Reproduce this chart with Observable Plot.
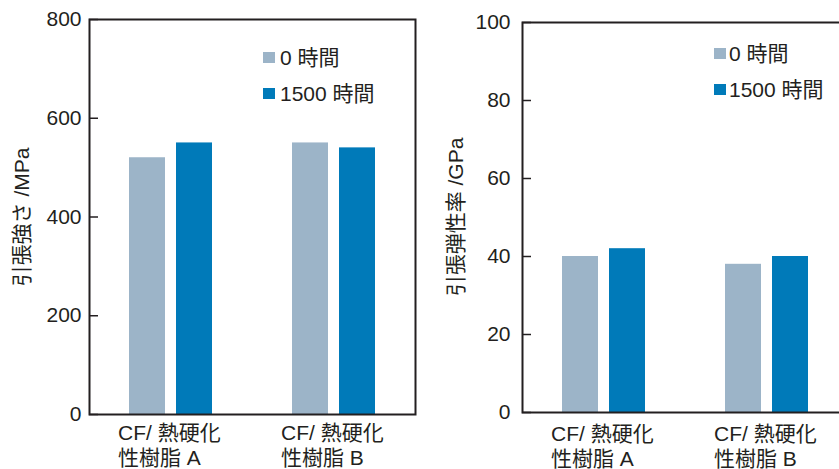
<!DOCTYPE html>
<html>
<head>
<meta charset="utf-8">
<script src="https://cdn.jsdelivr.net/npm/d3@7"></script>
<script src="https://cdn.jsdelivr.net/npm/@observablehq/plot@0.6"></script>
<style>
  html, body { margin: 0; padding: 0; background: #fff; overflow: hidden; }
  #wrap { position: relative; width: 839px; height: 469px; overflow: hidden;
          font-family: "Liberation Sans", Arial, "Noto Sans CJK JP", sans-serif; color: #231f20; }
  .panel { position: absolute; top: 0; }
  .panel svg { max-width: none !important; display: block; }
  .ytitle { position: absolute; font-size: 21px; white-space: nowrap; line-height: 1;
            transform: translate(-50%, -50%) rotate(-90deg); }
  .legend { position: absolute; font-size: 21px; line-height: 1; }
  .legend .row { position: absolute; white-space: nowrap; display: flex; align-items: center; }
  .legend .sw { display: inline-block; width: 12px; height: 11px; }
</style>
</head>
<body>
<div id="wrap"></div>
<script>
// Materials (two-line labels under each group)
const categories = ["CF/ 熱硬化\n性樹脂 A", "CF/ 熱硬化\n性樹脂 B"];
const seriesNames = ["0 時間", "1500 時間"];
const seriesColors = ["#9cb4c8", "#007ab9"];

// Tensile strength (MPa)
const strength0h = [520, 550];
const strength1500h = [550, 540];
const strengthTicks = [0, 200, 400, 600, 800];

// Tensile modulus (GPa)
const modulus0h = [40, 38];
const modulus1500h = [42, 40];
const modulusTicks = [0, 20, 40, 60, 80, 100];

const ink = "#231f20";
const font = '"Liberation Sans", Arial, "Noto Sans CJK JP", sans-serif';

function rows(values) {
  return categories.map((c, i) => ({category: c, value: values[i]}));
}

function panel({v0, v1, ticks, domain, marginLeft, marginTop, marginBottom, tickPadding, xPadding}) {
  return Plot.plot({
    width: marginLeft + 326 + 5,
    height: 469,
    marginLeft, marginRight: 5, marginTop, marginBottom,
    style: {fontSize: "21px", fontFamily: font, color: ink, background: "transparent", overflow: "visible"},
    x: {domain: categories, padding: 0, axis: null},
    y: {domain, axis: null},
    marks: [
      Plot.barY(rows(v0), {x: "category", y: "value", fill: seriesColors[0], insetLeft: 40, insetRight: 87}),
      Plot.barY(rows(v1), {x: "category", y: "value", fill: seriesColors[1], insetLeft: 87, insetRight: 40}),
      Plot.axisY(ticks, {anchor: "left", tickSize: -9, tickPadding: 9 + tickPadding, strokeWidth: 1.5, label: null, fill: ink, stroke: ink}),
      Plot.axisX({anchor: "bottom", tickSize: 0, tickPadding: xPadding, textAnchor: "start", dx: -53,
                  lineHeight: 1.18, label: null, fill: ink}),
      Plot.frame({stroke: ink, strokeWidth: 2})
    ]
  });
}

const wrap = document.getElementById("wrap");

function addPanel(left, svg, title, titleX, titleY, legendSpec) {
  const holder = document.createElement("div");
  holder.className = "panel";
  holder.style.left = left + "px";
  holder.style.width = svg.getAttribute("width") + "px";
  holder.appendChild(svg);
  wrap.appendChild(holder);

  const t = document.createElement("div");
  t.className = "ytitle";
  t.textContent = title;
  t.style.left = titleX + "px";
  t.style.top = titleY + "px";
  wrap.appendChild(t);

  const lg = document.createElement("div");
  lg.className = "legend";
  seriesNames.forEach((name, i) => {
    const r = document.createElement("div");
    r.className = "row";
    r.style.left = legendSpec.x + "px";
    r.style.top = (legendSpec.y + i * 36) + "px";
    r.style.height = "0px";
    const sw = document.createElement("span");
    sw.className = "sw";
    sw.style.background = seriesColors[i];
    sw.style.marginRight = legendSpec.gap + "px";
    const tx = document.createElement("span");
    tx.textContent = name;
    r.appendChild(sw);
    r.appendChild(tx);
    lg.appendChild(r);
  });
  wrap.appendChild(lg);
}

addPanel(0, panel({
  v0: strength0h, v1: strength1500h, ticks: strengthTicks, domain: [0, 800],
  marginLeft: 89, marginTop: 19, marginBottom: 55, tickPadding: 8, xPadding: 8
}), "引張強さ /MPa", 21, 217, {x: 263, y: 57, gap: 5});

addPanel(420, panel({
  v0: modulus0h, v1: modulus1500h, ticks: modulusTicks, domain: [0, 100],
  marginLeft: 102, marginTop: 22, marginBottom: 57, tickPadding: 12, xPadding: 11
}), "引張弾性率 /GPa", 455, 217, {x: 714, y: 53, gap: 3});
</script>
</body>
</html>
